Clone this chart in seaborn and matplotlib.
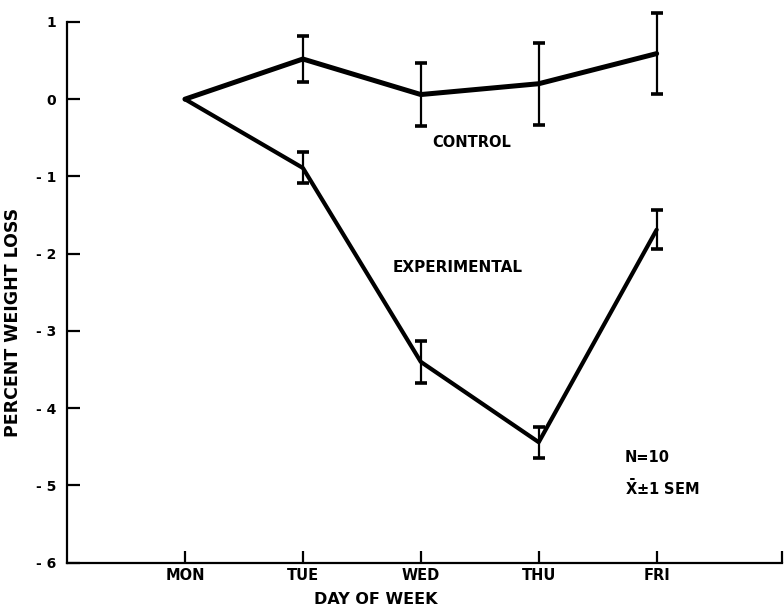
import matplotlib
matplotlib.use("Agg")
import matplotlib.pyplot as plt
import numpy as np
import pandas as pd
import seaborn as sns

# Mean percent weight loss by weekday, with +/- 1 SEM
days = ["MON", "TUE", "WED", "THU", "FRI"]
control_mean = [0.0, 0.52, 0.06, 0.20, 0.59]
control_sem = [0.0, 0.30, 0.41, 0.53, 0.52]
experimental_mean = [0.0, -0.89, -3.40, -4.44, -1.69]
experimental_sem = [0.0, 0.20, 0.27, 0.20, 0.25]
y_ticks = [1, 0, -1, -2, -3, -4, -5, -6]
y_tick_labels = ["1", "0", "- 1", "- 2", "- 3", "- 4", "- 5", "- 6"]

sns.set_style("white")
plt.rcParams["font.family"] = ["DejaVu Sans"]
plt.rcParams["font.weight"] = "bold"
plt.rcParams["text.color"] = "black"
plt.rcParams["axes.labelcolor"] = "black"
plt.rcParams["xtick.color"] = "black"
plt.rcParams["ytick.color"] = "black"

pos = np.arange(len(days))
df = pd.DataFrame({
    "pos": np.concatenate([pos, pos]),
    "loss": control_mean + experimental_mean,
    "group": ["CONTROL"] * len(days) + ["EXPERIMENTAL"] * len(days),
})

fig = plt.figure(figsize=(7.84, 6.09), dpi=100)
ax = fig.add_axes([0.0855, 0.076, 0.9115, 0.888])

sns.lineplot(data=df[df.group == "CONTROL"], x="pos", y="loss", color="black",
             linewidth=3.6, ax=ax, legend=False)
sns.lineplot(data=df[df.group == "EXPERIMENTAL"], x="pos", y="loss", color="black",
             linewidth=3.0, ax=ax, legend=False)

# error bars (skip Monday, the baseline day)
for mean, sem in [(control_mean, control_sem), (experimental_mean, experimental_sem)]:
    ax.errorbar(pos[1:], mean[1:], yerr=sem[1:], fmt="none", ecolor="black",
                elinewidth=1.6, capsize=4.3, capthick=2.6, clip_on=False)

ax.set_xlim(-1.0, 5.06)
ax.set_ylim(-6, 1)
ax.set_xticks(list(pos) + [5.06])
ax.set_xticklabels(days + [""], fontsize=10.5, fontweight="bold")
ax.set_yticks(y_ticks)
ax.set_yticklabels(y_tick_labels, fontsize=10, fontweight="bold")
ax.tick_params(axis="both", direction="in", length=9, width=1.6, color="black",
               labelcolor="black", bottom=True, left=True)
ax.tick_params(axis="x", pad=4)
ax.tick_params(axis="y", pad=8)

for side in ["top", "right"]:
    ax.spines[side].set_visible(False)
for side in ["left", "bottom"]:
    ax.spines[side].set_color("black")
    ax.spines[side].set_linewidth(1.6)

ax.set_xlabel("DAY OF WEEK", fontsize=11.5, fontweight="bold", color="black")
ax.xaxis.set_label_coords(0.432, -0.055)
ax.set_ylabel("PERCENT WEIGHT LOSS", fontsize=12.5, fontweight="bold", color="black")
ax.yaxis.set_label_coords(-0.063, 0.445)

ax.text(2.43, -0.56, "CONTROL", fontsize=10.5, fontweight="bold", ha="center", va="center")
ax.text(2.31, -2.18, "EXPERIMENTAL", fontsize=11, fontweight="bold", ha="center", va="center")
ax.text(3.73, -4.64, "N=10", fontsize=10.5, fontweight="bold", ha="left", va="center")
ax.text(3.73, -5.04, r"$\bar{\mathbf{X}}$±1 SEM", fontsize=10.5, fontweight="bold",
        ha="left", va="center")

fig.savefig("out.png", dpi=100, facecolor="white")
